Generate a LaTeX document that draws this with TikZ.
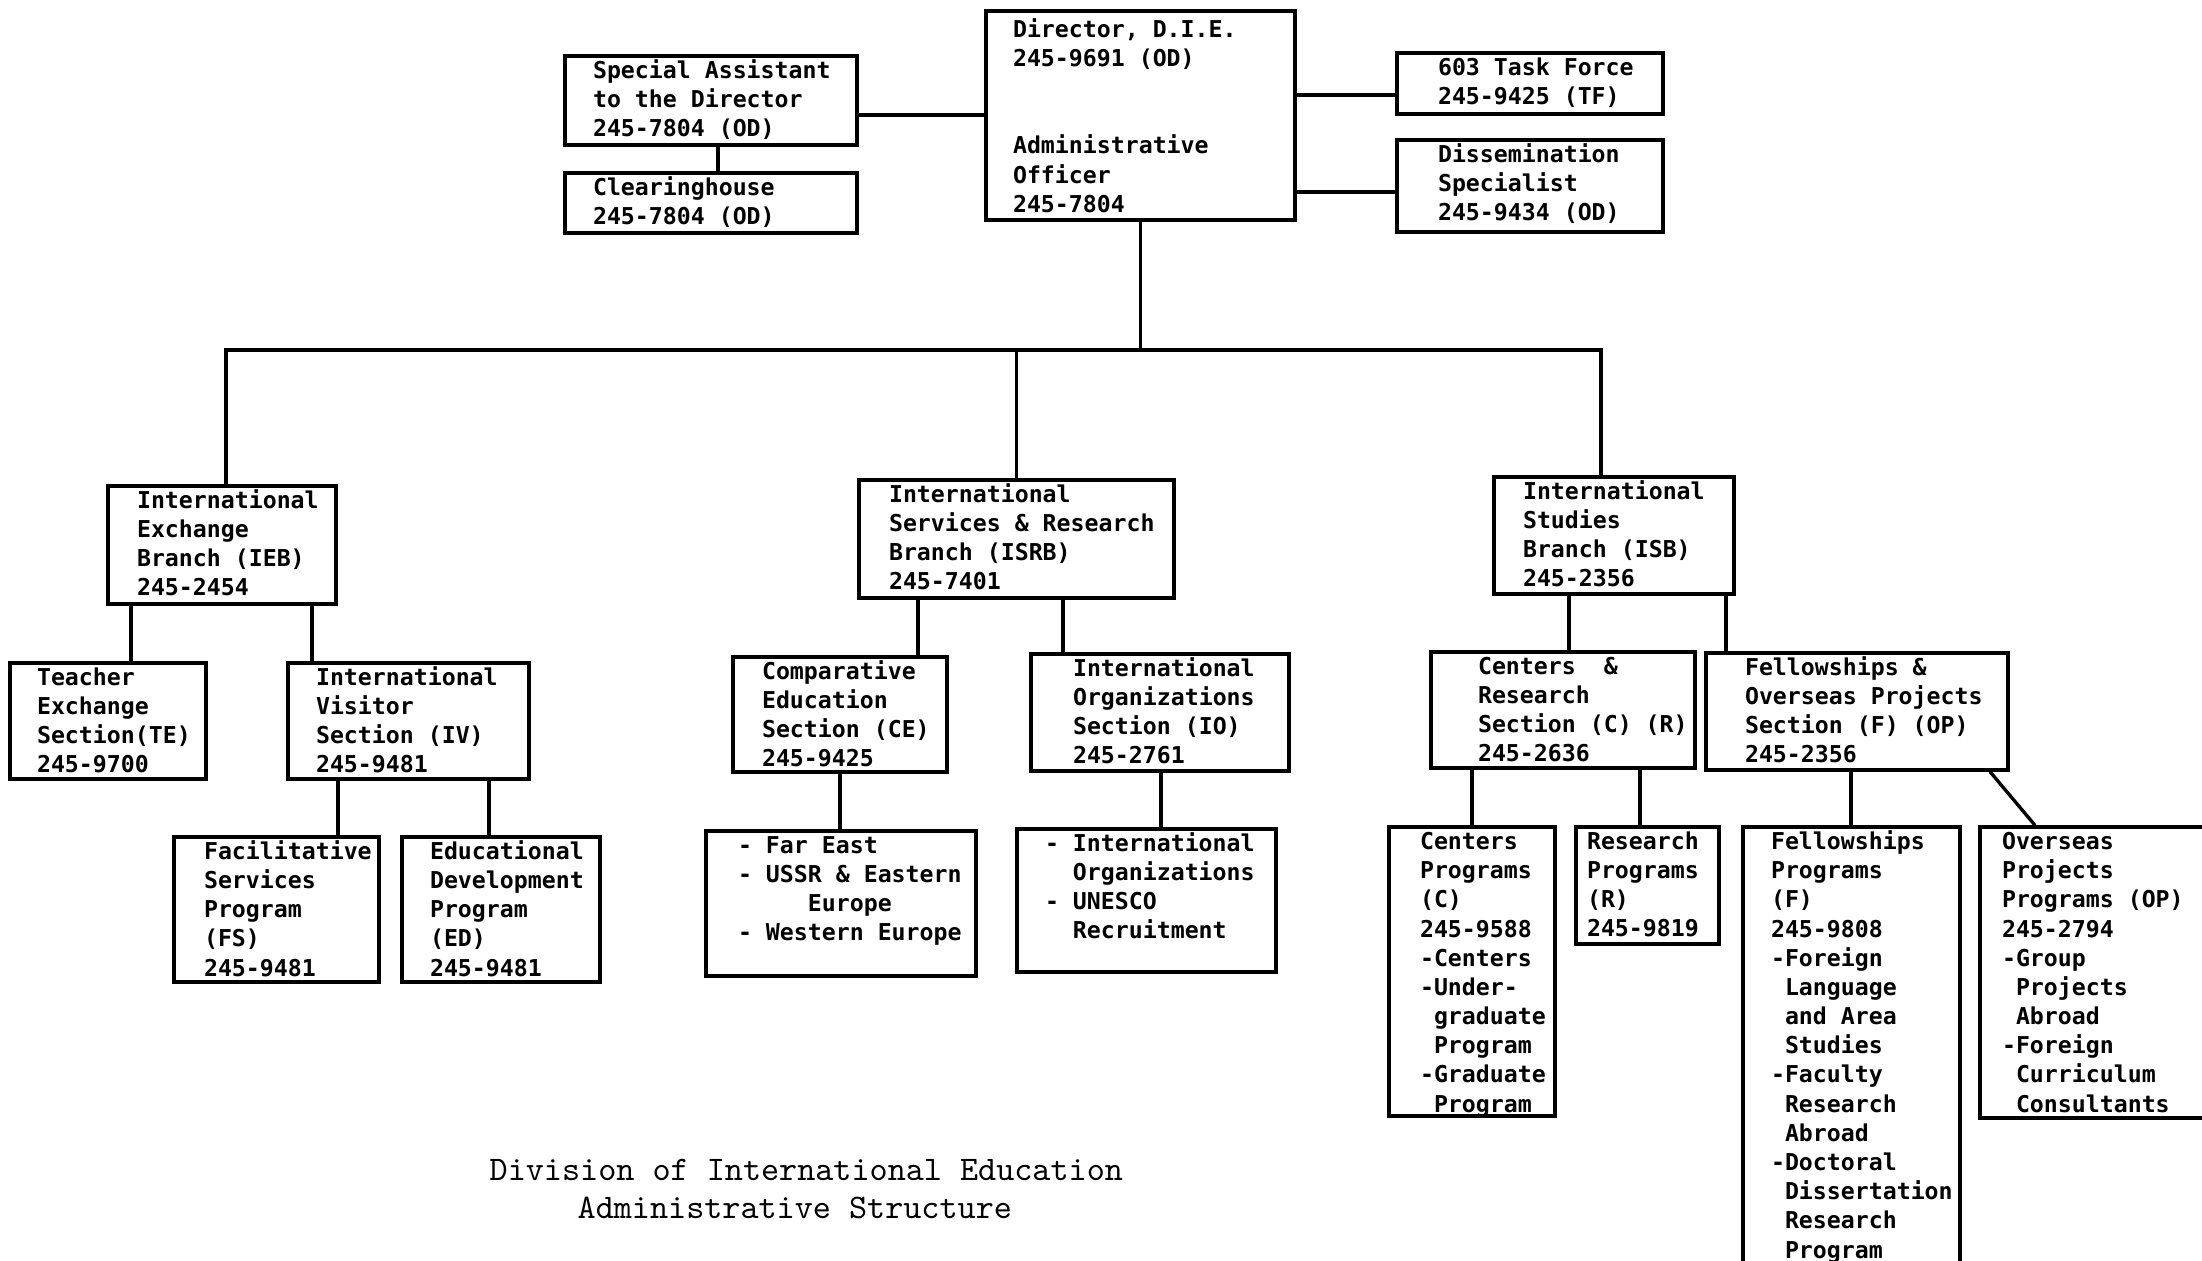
\documentclass[tikz,border=0pt]{standalone}
\usepackage{fontspec}
\newfontfamily\printerfont{DejaVu Sans Mono}
\usetikzlibrary{fit,calc}

% one character of indent in the monospaced box text
\newcommand\ind{\phantom{-}}

\tikzset{
  x=0.01cm, y=-0.01cm,
  unitframe/.style={draw, line width=0.95pt, inner sep=0pt},
  unittext/.style={anchor=north west, inner sep=0pt, align=left,
    font=\printerfont\bfseries\fontsize{6.6pt}{8.3pt}\selectfont},
  link/.style={line width=0.95pt},
  caption/.style={anchor=base west, inner sep=0pt,
    font=\ttfamily\fontsize{9.8pt}{11pt}\selectfont}
}

% [#1] text drop, #2 name, #3 #4 top-left corner, #5 #6 bottom-right corner,
% #7 text indent, #8 text
\newcommand\unitbox[8][2.3]{%
  \node[unitframe, fit={(#3,#4) (#5,#6)}] (#2) {};
  \node[unittext] (#2-t) at ($(#2.north west)+(#7,#1)$) {\rule{0pt}{6pt}#8};
}

\begin{document}
\begin{tikzpicture}
\useasboundingbox (0,0) rectangle (2202,1261);
\fill[white] (0,0) rectangle (2202,1261);
\clip (0,0) rectangle (2202,1261);

% --- top level
\unitbox[6]{dir}{986}{11}{1295}{220}{28}{Director, D.I.E.\\245-9691 (OD)\\[16.6pt]Administrative\\Officer\\245-7804}
\unitbox{sa}{565}{56}{857}{145}{29}{Special Assistant\\to the Director\\245-7804 (OD)}
\unitbox{ch}{565}{173}{857}{233}{29}{Clearinghouse\\245-7804 (OD)}
\unitbox{tf}{1397}{53}{1663}{114}{42}{603 Task Force\\245-9425 (TF)}
\unitbox{ds}{1397}{140}{1663}{232}{42}{Dissemination\\Specialist\\245-9434 (OD)}

% --- branches
\unitbox{ieb}{108}{486}{336}{604}{30}{International\\Exchange\\Branch (IEB)\\245-2454}
\unitbox{isrb}{859}{480}{1174}{598}{31}{International\\Services \& Research\\Branch (ISRB)\\245-7401}
\unitbox{isb}{1494}{477}{1734}{594}{30}{International\\Studies\\Branch (ISB)\\245-2356}

% --- sections
\unitbox{te}{10}{663}{206}{779}{28}{Teacher\\Exchange\\Section(TE)\\245-9700}
\unitbox{iv}{288}{663}{529}{779}{29}{International\\Visitor\\Section (IV)\\245-9481}
\unitbox{ce}{733}{657}{947}{772}{30}{Comparative\\Education\\Section (CE)\\245-9425}
\unitbox{io}{1031}{654}{1289}{771}{43}{International\\Organizations\\Section (IO)\\245-2761}
\unitbox{cr}{1431}{652}{1695}{768}{48}{Centers~~\&\\Research\\Section (C) (R)\\245-2636}
\unitbox{fop}{1706}{653}{2008}{770}{40}{Fellowships \&\\Overseas Projects\\Section (F) (OP)\\245-2356}

% --- programs
\unitbox{fs}{174}{837}{379}{982}{31}{Facilitative\\Services\\Program\\(FS)\\245-9481}
\unitbox{ed}{402}{837}{600}{982}{29}{Educational\\Development\\Program\\(ED)\\245-9481}
\unitbox{fe}{706}{831}{976}{976}{33}{- Far East\\- USSR \& Eastern\\\ind\ind\ind\ind\ind Europe\\- Western Europe}
\unitbox{iol}{1017}{829}{1276}{972}{29}{- International\\\ind\ind Organizations\\- UNESCO\\\ind\ind Recruitment}
\unitbox{cp}{1389}{827}{1555}{1116}{32}{Centers\\Programs\\(C)\\245-9588\\-Centers\\-Under-\\\ind graduate\\\ind Program\\-Graduate\\\ind Program}
\unitbox{rp}{1576}{827}{1719}{944}{12}{Research\\Programs\\(R)\\245-9819}
\unitbox{fp}{1743}{827}{1960}{1280}{29}{Fellowships\\Programs\\(F)\\245-9808\\-Foreign\\\ind Language\\\ind and Area\\\ind Studies\\-Faculty\\\ind Research\\\ind Abroad\\-Doctoral\\\ind Dissertation\\\ind Research\\\ind Program}
\unitbox{op}{1980}{827}{2220}{1118}{23}{Overseas\\Projects\\Programs (OP)\\245-2794\\-Group\\\ind Projects\\\ind Abroad\\-Foreign\\\ind Curriculum\\\ind Consultants}

% --- connectors around the director
\draw[link] (sa.east |- 0,115) -- (dir.west |- 0,115);
\draw[link] (718,0 |- sa.south) -- (718,0 |- ch.north);
\draw[link] (dir.east |- 0,95) -- (tf.west |- 0,95);
\draw[link] (dir.east |- 0,192) -- (ds.west |- 0,192);

% --- director to the three branches
\draw[link] (dir.south) -- (dir.south |- 0,350);
\draw[link] (226,0 |- ieb.north) -- (226,350) -- (1601,350) -- (1601,0 |- isb.north);
\draw[link] (isrb.north |- 0,350) -- (isrb.north);

% --- branches to sections
\draw[link] (131,0 |- ieb.south) -- (131,0 |- te.north);
\draw[link] (312,0 |- ieb.south) -- (312,0 |- iv.north);
\draw[link] (918,0 |- isrb.south) -- (918,0 |- ce.north);
\draw[link] (1063,0 |- isrb.south) -- (1063,0 |- io.north);
\draw[link] (1569,0 |- isb.south) -- (1569,0 |- cr.north);
\draw[link] (1726,0 |- isb.south) -- (1726,0 |- fop.north);

% --- sections to programs
\draw[link] (338,0 |- iv.south) -- (338,0 |- fs.north);
\draw[link] (489,0 |- iv.south) -- (489,0 |- ed.north);
\draw[link] (840,0 |- ce.south) -- (840,0 |- fe.north);
\draw[link] (1161,0 |- io.south) -- (1161,0 |- iol.north);
\draw[link] (1472,0 |- cr.south) -- (1472,0 |- cp.north);
\draw[link] (1640,0 |- cr.south) -- (1640,0 |- rp.north);
\draw[link] (1851,0 |- fop.south) -- (1851,0 |- fp.north);
\draw[link] (1990,0 |- fop.south) -- (2035,0 |- op.north);

% --- caption
\node[caption] (title1) at (489,1180) {Division of International Education};
\node[caption] (title2) at (577,1218) {Administrative Structure};
\end{tikzpicture}
\end{document}
